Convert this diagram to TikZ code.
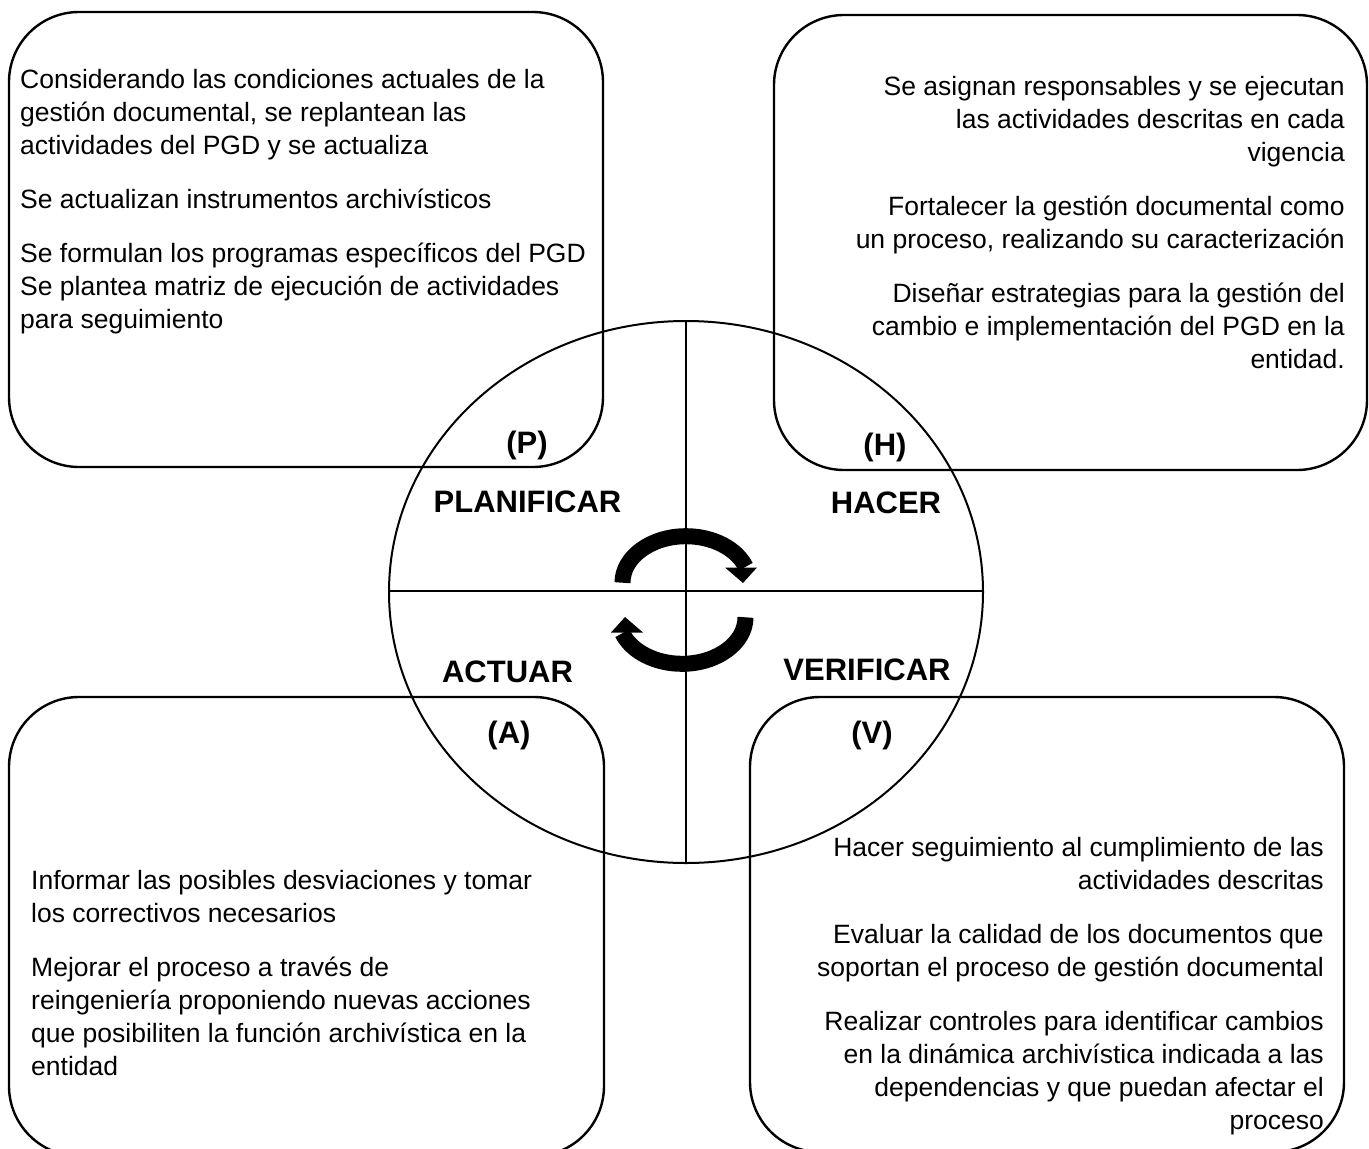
\documentclass[tikz,border=0pt]{standalone}
\usepackage{fontspec}
\setmainfont{Liberation Sans}
\begin{document}
\begin{tikzpicture}[x=1pt,y=-1pt,
  box/.style={line width=2.4pt, rounded corners=70pt},
  ring/.style={line width=2pt},
  body/.style={inner sep=0pt, font=\fontsize{26.5}{33}\selectfont},
  lbl/.style={inner sep=0pt, anchor=base, font=\bfseries\fontsize{31}{31}\selectfont},
  turn/.style={line width=16pt}]
\useasboundingbox (0,0) rectangle (1369,1149);
\clip (0,0) rectangle (1369,1149);
% boxes
\draw[box] (9,12) rectangle (603,467);
\draw[box] (774,15) rectangle (1367,470);
\draw[box] (9,697) rectangle (604,1156);
\draw[box] (750,697) rectangle (1344,1152);
% ring
\coordinate (c) at (686,591);
\coordinate (top) at (686,321);
\coordinate (bot) at (686,863);
\coordinate (lft) at (389,591);
\coordinate (rgt) at (983,591);
\draw[ring] (686,592) ellipse [x radius=297, y radius=271];
\draw[ring] (top) -- (bot);
\draw[ring] (lft) -- (rgt);
% cycle arrows
\draw[turn] (622.5,582.7) arc[start angle=180, end angle=340, x radius=63.5, y radius=46.5];
\fill (725,567.5) -- (757,567.5) -- (743,583) -- cycle;
\begin{scope}[rotate around={180:(684,600)}]
\draw[turn] (622.5,582.7) arc[start angle=180, end angle=340, x radius=63.5, y radius=46.5];
\fill (725,567.5) -- (757,567.5) -- (743,583) -- cycle;
\end{scope}
% labels
\node[lbl] (P) at (527,453) {(P)};
\node[lbl] (planificar) at (527.5,512) {PLANIFICAR};
\node[lbl] (H) at (885,455) {(H)};
\node[lbl] (hacer) at (886,513) {HACER};
\node[lbl] (actuar) at (507.5,682) {ACTUAR};
\node[lbl] (A) at (509,743) {(A)};
\node[lbl] (verificar) at (867,680) {VERIFICAR};
\node[lbl] (V) at (872,743) {(V)};
% texts
\node[body, anchor=base west] (tP) at (20,88) {\parbox[t]{600pt}{\raggedright
Considerando las condiciones actuales de la\\
gestión documental, se replantean las\\
actividades del PGD y se actualiza\\[21pt]
Se actualizan instrumentos archivísticos\\[21pt]
Se formulan los programas específicos del PGD\\
Se plantea matriz de ejecución de actividades\\
para seguimiento}};
\node[body, anchor=base east] (tH) at (1345,95) {\parbox[t]{600pt}{\raggedleft
Se asignan responsables y se ejecutan\\
las actividades descritas en cada\\
vigencia\\[21pt]
Fortalecer la gestión documental como\\
un proceso, realizando su caracterización\\[21pt]
Diseñar estrategias para la gestión del\\
cambio e implementación del PGD en la\\
entidad.}};
\node[body, anchor=base west] (tA) at (31,889) {\parbox[t]{600pt}{\raggedright
Informar las posibles desviaciones y tomar\\
los correctivos necesarios\\[21pt]
Mejorar el proceso a través de\\
reingeniería proponiendo nuevas acciones\\
que posibiliten la función archivística en la\\
entidad}};
\node[body, anchor=base east] (tV) at (1324,856) {\parbox[t]{600pt}{\raggedleft
Hacer seguimiento al cumplimiento de las\\
actividades descritas\\[21pt]
Evaluar la calidad de los documentos que\\
soportan el proceso de gestión documental\\[21pt]
Realizar controles para identificar cambios\\
en la dinámica archivística indicada a las\\
dependencias y que puedan afectar el\\
proceso}};
\end{tikzpicture}
\end{document}
